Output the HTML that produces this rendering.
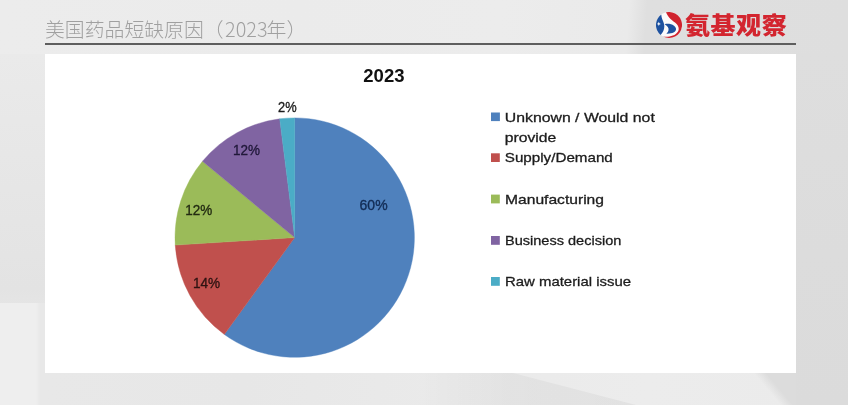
<!DOCTYPE html>
<html lang="zh-CN">
<head>
<meta charset="utf-8">
<title>美国药品短缺原因（2023年）</title>
<style>
html,body{margin:0;padding:0;}
body{width:848px;height:405px;overflow:hidden;position:relative;background:#e6e6e6;font-family:"Liberation Sans","Noto Sans CJK SC",sans-serif;}
#bg{position:absolute;left:0;top:0;width:848px;height:405px;background:#e8e8e8;overflow:hidden;}
#bg i{position:absolute;display:block;}
#bgTop{left:0;top:0;width:848px;height:54px;background:linear-gradient(94deg,#ececec 0px,#ebebeb 300px,#ececec 500px,#eaeaea 628px,#dfdfdf 646px,#dedede 848px);}
#bgLeft{left:0;top:54px;width:45px;height:252px;background:linear-gradient(180deg,#eaeaea 0px,#e7e7e7 100px,#e3e3e3 235px,#e5e5e5 252px);}
#bgLeft2{left:0;top:303px;width:45px;height:102px;background:linear-gradient(90deg,#eeeeee 0px,#eeeeee 36px,#e8e8e8 40px);}
#bgRight{left:796px;top:54px;width:52px;height:351px;background:linear-gradient(180deg,#dedede 0px,#dcdcdc 200px,#dbdbdb 351px);}
#bgBot{left:45px;top:373px;width:751px;height:32px;background:linear-gradient(96deg,#e8e8e8 0px,#e7e7e7 200px,#eaeaea 400px,#ececec 600px,#ebebeb 751px);}
#bgWedge{left:420px;top:373px;width:220px;height:32px;background:linear-gradient(90deg,rgba(0,0,0,0) 0px,rgba(0,0,0,.035) 90px,rgba(0,0,0,.045) 220px);clip-path:polygon(0 0,93px 0,216px 32px,0 32px);}
#bgBotR{left:740px;top:373px;width:56px;height:32px;background:linear-gradient(50deg,rgba(220,220,220,0) 49%,rgba(220,220,220,1) 64%);}
#title{position:absolute;left:45px;top:14.4px;height:30px;line-height:30px;font-size:19.85px;font-weight:300;color:#a0a0a0;white-space:nowrap;letter-spacing:0;font-family:"Liberation Sans","Noto Sans CJK SC",sans-serif;}
#rule{position:absolute;left:45px;top:43px;width:751px;height:2px;background:#5e5e5e;}
#panel{position:absolute;left:45px;top:54px;width:751px;height:319px;background:#fff;}
#brand{position:absolute;left:685px;top:6px;height:36px;line-height:36px;font-size:25px;font-weight:900;color:#d3252f;white-space:nowrap;letter-spacing:0.55px;transform:scaleY(0.94);transform-origin:0 39px;font-family:"Liberation Sans","Noto Sans CJK SC",sans-serif;}
#logo{position:absolute;left:655.9px;top:11.8px;width:26px;height:26px;}
#chart{position:absolute;left:0;top:0;width:848px;height:405px;}
#chart text{font-family:"Liberation Sans",sans-serif;fill:#1c1c1c;stroke:#1c1c1c;stroke-width:0;}
#labels text{stroke-width:0.35px;}
#legend text{stroke-width:0.3px;}
#title span{font-family:"Noto Sans CJK SC","Liberation Sans",sans-serif;font-weight:300;letter-spacing:0;margin-left:1.5px;margin-right:-1px;}
</style>
</head>
<body>
<div id="bg"><i id="bgTop"></i><i id="bgLeft"></i><i id="bgLeft2"></i><i id="bgRight"></i><i id="bgBot"></i><i id="bgWedge"></i><i id="bgBotR"></i></div>
<div id="title">美国药品短缺原因（<span>2023</span>年）</div>
<div id="rule"></div>
<div id="panel"></div>
<svg id="logo" viewBox="0 0 26 26">
  <circle cx="13" cy="13" r="12.9" fill="#fbfbfb"/>
  <path d="M10 0.35 A13 13 0 1 1 7 24.5 C12 25.2 19 24.5 22 19.5 C23.6 17 22.5 13 19 10.6 C16 8.5 12.5 6 10 0.35Z" fill="#d0232e"/>
  <path d="M5.3 2.5 A13 13 0 0 0 4.6 23 C7.8 19.5 9 15.5 7.9 11.5 C7 8.5 5.2 5.5 5.3 2.5Z" fill="#1e529f"/>
  <path d="M8.6 12.2 C11 11.5 15.5 11.7 18 13.7 C19.6 15 20.3 16.2 20 17.6 C19.4 20.2 16.5 21.9 10.4 21.7 C12.8 19.6 13.2 17 11.8 15 C11 14 9.8 13.1 8.6 12.2Z" fill="#1e529f"/>
  <path d="M2.8 9.8 L3.4 11.3 L4.9 11.9 L3.4 12.5 L2.8 14 L2.2 12.5 L0.8 11.9 L2.2 11.3Z" fill="#fff"/>
</svg>
<div id="brand">氨基观察</div>
<svg id="chart" viewBox="0 0 848 405">
  <g id="pie" shape-rendering="geometricPrecision" stroke-width="0.4" stroke-linejoin="round">
    <path d="M294.7 237.6 L294.70 117.90 A119.7 119.7 0 1 1 224.34 334.44 Z" fill="#4f81bd" stroke="#4f81bd"/>
    <path d="M294.7 237.6 L224.34 334.44 A119.7 119.7 0 0 1 175.24 245.12 Z" fill="#c0504d" stroke="#c0504d"/>
    <path d="M294.7 237.6 L175.24 245.12 A119.7 119.7 0 0 1 202.47 161.30 Z" fill="#9bbb59" stroke="#9bbb59"/>
    <path d="M294.7 237.6 L202.47 161.30 A119.7 119.7 0 0 1 279.70 118.84 Z" fill="#8064a2" stroke="#8064a2"/>
    <path d="M294.7 237.6 L279.70 118.84 A119.7 119.7 0 0 1 294.70 117.90 Z" fill="#4bacc6" stroke="#4bacc6"/>
  </g>
  <g id="labels" font-size="14.4">
    <text x="359.6" y="210.2" textLength="28" lengthAdjust="spacingAndGlyphs" style="fill:#122c55;stroke:#122c55">60%</text>
    <text x="193" y="288" textLength="27.2" lengthAdjust="spacingAndGlyphs" style="fill:#2e1312;stroke:#2e1312">14%</text>
    <text x="185.2" y="215.3" textLength="27" lengthAdjust="spacingAndGlyphs" style="fill:#232b12;stroke:#232b12">12%</text>
    <text x="233" y="155.2" textLength="27" lengthAdjust="spacingAndGlyphs" style="fill:#20183a;stroke:#20183a">12%</text>
    <text x="278" y="112" textLength="18.6" lengthAdjust="spacingAndGlyphs">2%</text>
  </g>
  <g id="legend" font-size="13.5">
    <rect x="491" y="112.5" width="8.9" height="8.6" fill="#4f81bd"/>
    <text x="504.8" y="121.8" textLength="150" lengthAdjust="spacingAndGlyphs">Unknown / Would not</text>
    <text x="504.8" y="142" textLength="51.5" lengthAdjust="spacingAndGlyphs">provide</text>
    <rect x="491" y="153.3" width="8.8" height="8.7" fill="#c0504d"/>
    <text x="504.8" y="162.3" textLength="108" lengthAdjust="spacingAndGlyphs">Supply/Demand</text>
    <rect x="491" y="194.6" width="8.8" height="8.8" fill="#9bbb59"/>
    <text x="505" y="203.7" textLength="99" lengthAdjust="spacingAndGlyphs">Manufacturing</text>
    <rect x="491" y="236" width="8.8" height="8.8" fill="#8064a2"/>
    <text x="505" y="245.2" textLength="116.3" lengthAdjust="spacingAndGlyphs">Business decision</text>
    <rect x="491" y="277" width="8.8" height="8.8" fill="#4bacc6"/>
    <text x="505" y="286.2" textLength="126" lengthAdjust="spacingAndGlyphs">Raw material issue</text>
  </g>
  <text x="363.3" y="81.8" font-size="17.6" font-weight="700" textLength="41.2" lengthAdjust="spacingAndGlyphs" style="fill:#111">2023</text>
</svg>
</body>
</html>
